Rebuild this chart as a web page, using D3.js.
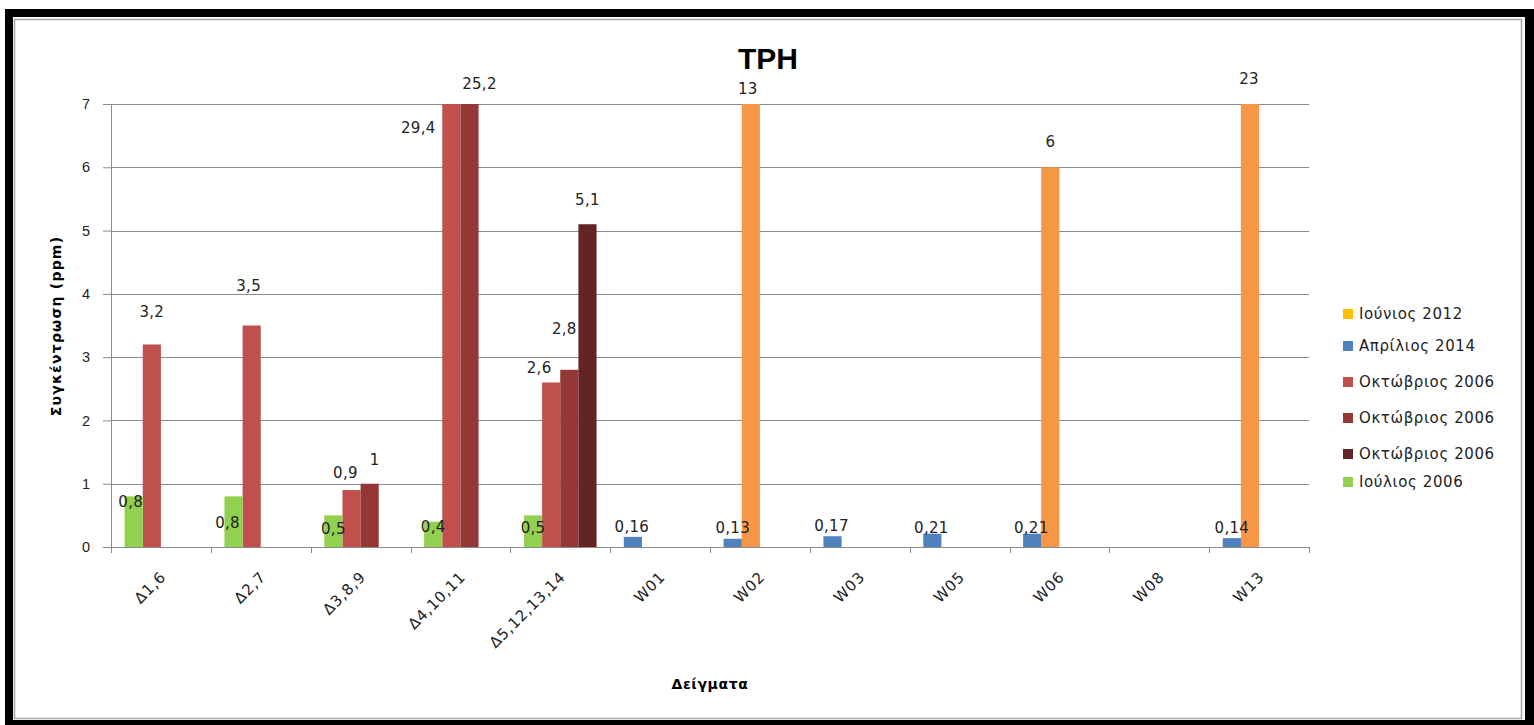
<!DOCTYPE html>
<html>
<head>
<meta charset="utf-8">
<script src="https://cdn.jsdelivr.net/npm/d3@7"></script>
<style>
  body { margin: 0; background: #fff; }
  svg { display: block; font-family: "DejaVu Sans", Verdana, sans-serif; }
  .grid line { stroke: #8c8c8c; stroke-width: 1; }
  .axis path, .axis line { stroke: #8c8c8c; }
  .axis text { fill: #222; font-size: 14.5px; }
  .xlab { letter-spacing: 0.8px; font-size: 15px !important; }
  .lbl { fill: #222; font-size: 15px; text-anchor: middle; letter-spacing: 0.3px; }
</style>
</head>
<body>
<div id="chart"></div>
<script>
// samples on the x axis
var categories = ["Δ1,6", "Δ2,7", "Δ3,8,9", "Δ4,10,11", "Δ5,12,13,14", "W01", "W02", "W03", "W05", "W06", "W08", "W13"];
var yTicks = [0, 1, 2, 3, 4, 5, 6, 7];

// values per series (ppm), null = no bar
var june2012  = [null, null, null, null, null, null, 13, null, null, 6, null, 23];
var april2014 = [null, null, null, null, null, 0.16, 0.13, 0.17, 0.21, 0.21, null, 0.14];
var oct2006a  = [3.2, 3.5, 0.9, 29.4, 2.6, null, null, null, null, null, null, null];
var oct2006b  = [null, null, 1, 25.2, 2.8, null, null, null, null, null, null, null];
var oct2006c  = [null, null, null, null, 5.1, null, null, null, null, null, null, null];
var july2006  = [0.8, 0.8, 0.5, 0.4, 0.5, null, null, null, null, null, null, null];

var legendNames = ["Ιούνιος 2012", "Απρίλιος 2014", "Οκτώβριος 2006", "Οκτώβριος 2006", "Οκτώβριος 2006", "Ιούλιος 2006"];

// slot = position within the cluster, nudge = hand-placed label offsets [dx, dy]
var series = [
  {name: legendNames[0], values: june2012, slot: 1, color: "#F79646", key: "#FFC000",
   nudge: {6: [-3, -5], 9: [0, -16], 11: [-1, -15]}},
  {name: legendNames[1], values: april2014, slot: 0, color: "#4F81BD", key: "#4F81BD",
   nudge: {5: [-1, 0], 6: [0, -1], 7: [-1, 0], 8: [-1, 4], 9: [-1, 4], 11: [0, 0]}},
  {name: legendNames[2], values: oct2006a, slot: 1, color: "#C0504D", key: "#C0504D",
   nudge: {0: [0, -23], 1: [-3, -30], 2: [-6, -7], 3: [-33, 34], 4: [-12, -5]}},
  {name: legendNames[3], values: oct2006b, slot: 2, color: "#953735", key: "#953735",
   nudge: {2: [5, -14], 3: [10, -10], 4: [-5, -31]}},
  {name: legendNames[4], values: oct2006c, slot: 3, color: "#632523", key: "#632523",
   nudge: {4: [0, -14]}},
  {name: legendNames[5], values: july2006, slot: 0, color: "#92D050", key: "#92D050",
   nudge: {0: [-3, 15], 1: [-6, 36], 2: [0, 23], 3: [0, 15], 4: [0, 22]}}
];

var W = 1534, H = 725;
var svg = d3.select("#chart").append("svg").attr("width", W).attr("height", H);

// frame
svg.append("rect").attr("x", 5).attr("y", 9).attr("width", W - 5).attr("height", H - 9).attr("fill", "#000");
svg.append("rect").attr("x", 13).attr("y", 17).attr("width", 1512).attr("height", 703).attr("fill", "#fff");
svg.append("rect").attr("x", 14.5).attr("y", 19.5).attr("width", 1507).attr("height", 699)
    .attr("fill", "none").attr("stroke", "#a6a6a6").attr("stroke-width", 1.5);

var x = d3.scaleBand().domain(categories).range([111, 1309]).padding(0);
var slot = d3.scaleBand().domain([0, 1, 2, 3]).range([0, x.bandwidth()]).paddingInner(0).paddingOuter(0.75);
var y = d3.scaleLinear().domain([0, 7]).range([547, 104]).clamp(true);

// gridlines
svg.append("g").attr("class", "grid")
  .selectAll("line").data(yTicks.slice(1)).enter().append("line")
    .attr("x1", 111).attr("x2", 1309)
    .attr("y1", function(d) { return Math.round(y(d)) + 0.5; })
    .attr("y2", function(d) { return Math.round(y(d)) + 0.5; });

// bars
series.forEach(function(s) {
  var pts = s.values.map(function(v, i) { return {v: v, i: i}; }).filter(function(p) { return p.v != null; });
  svg.append("g").selectAll("rect").data(pts).enter().append("rect")
      .attr("x", function(p) { return x(categories[p.i]) + slot(s.slot); })
      .attr("width", slot.bandwidth())
      .attr("y", function(p) { return y(p.v); })
      .attr("height", function(p) { return y(0) - y(p.v); })
      .attr("fill", s.color);
});

// y axis
var yAxis = svg.append("g").attr("class", "axis")
    .attr("transform", "translate(111,0)")
    .call(d3.axisLeft(y).tickValues(yTicks).tickSize(8).tickPadding(13).tickFormat(d3.format("d")));
yAxis.select(".domain").attr("d", "M0.5,104V547.5");
yAxis.selectAll(".tick line").attr("x1", 0.5);

// x axis
var xAxis = svg.append("g").attr("class", "axis")
    .attr("transform", "translate(0,547.5)")
    .call(d3.axisBottom(x).tickSize(0).tickFormat(""));
xAxis.select(".domain").attr("d", "M111,0H1309");
svg.append("g").attr("class", "axis")
  .selectAll("line").data(d3.range(categories.length + 1)).enter().append("line")
    .attr("x1", function(i) { return Math.round(111 + i * x.step()) + 0.5; })
    .attr("x2", function(i) { return Math.round(111 + i * x.step()) + 0.5; })
    .attr("y1", 547).attr("y2", 553);
svg.append("g").attr("class", "axis")
  .selectAll("text").data(categories).enter().append("text")
    .attr("class", "xlab")
    .attr("text-anchor", "end")
    .attr("transform", function(d) {
      var cx = x(d) + x.bandwidth() / 2 + 6;
      return "translate(" + cx + ",578) rotate(-45)";
    })
    .text(function(d) { return d; });

// data labels
var fmt = function(v) { return String(v).replace(".", ","); };
series.forEach(function(s) {
  var pts = s.values.map(function(v, i) { return {v: v, i: i}; }).filter(function(p) { return p.v != null; });
  svg.append("g").selectAll("text").data(pts).enter().append("text")
      .attr("class", "lbl")
      .attr("x", function(p) {
        var n = s.nudge[p.i] || [0, 0];
        return x(categories[p.i]) + slot(s.slot) + slot.bandwidth() / 2 + n[0];
      })
      .attr("y", function(p) {
        var n = s.nudge[p.i] || [0, 0];
        return y(p.v) - 10 + n[1];
      })
      .attr("dy", "0.35em")
      .text(function(p) { return fmt(p.v); });
});

// titles
svg.append("text").attr("x", 768).attr("y", 69).attr("text-anchor", "middle")
    .attr("font-size", 30).attr("font-weight", "bold")
    .attr("font-family", "'Liberation Sans', Arial, sans-serif").text("TPH");
svg.append("text").attr("x", 710).attr("y", 689).attr("text-anchor", "middle")
    .attr("font-size", 14).attr("font-weight", "bold").attr("letter-spacing", "0.6px").text("Δείγματα");
svg.append("text").attr("transform", "translate(61,326) rotate(-90)").attr("text-anchor", "middle")
    .attr("font-size", 14).attr("font-weight", "bold").attr("letter-spacing", "1.2px").text("Συγκέντρωση  (ppm)");

// legend
var legendY = [314, 346, 382, 418, 454, 482];
var legend = svg.append("g").selectAll("g").data(series).enter().append("g")
    .attr("transform", function(d, i) { return "translate(1343," + legendY[i] + ")"; });
legend.append("rect").attr("x", 0).attr("y", -5).attr("width", 10).attr("height", 10)
    .attr("fill", function(d) { return d.key; });
legend.append("text").attr("x", 16).attr("dy", "0.35em").attr("font-size", 15).attr("letter-spacing", "0.6px")
    .attr("fill", "#222")
    .text(function(d) { return d.name; });
</script>
</body>
</html>
